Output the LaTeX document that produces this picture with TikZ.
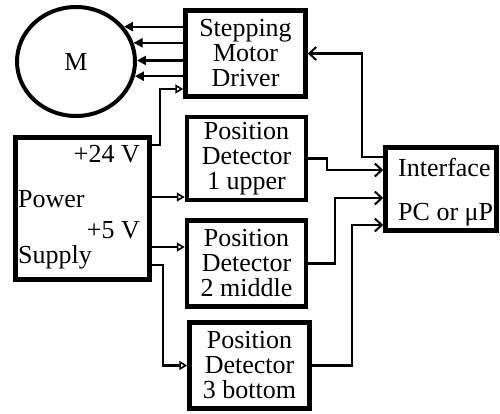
\documentclass[tikz,border=0pt]{standalone}
\usepackage{fontspec}
\setmainfont{Liberation Serif}
\usepackage{tikz}
\usetikzlibrary{arrows.meta,shapes.geometric}
\tikzset{%
    block/.style={draw, line width=4.5pt, align=center, inner sep=0pt},
    pwr/.style={line width=2.2pt, -{Triangle[open,length=8pt,width=9pt,line width=1.6pt]}},
    sig/.style={line width=2.2pt, -{Straight Barb[length=7pt,width=13pt,line width=2pt]}},
    drv/.style={line width=2.2pt, -{Triangle[length=9pt,width=9pt]}}
}

\begin{document}
\begin{tikzpicture}[x=1pt,y=-1pt,font=\fontsize{26}{25}\selectfont]
    \useasboundingbox (0,0) rectangle (500,413);
    \node[draw, ellipse, line width=4pt, minimum width=118pt, minimum height=109pt] (motor) at (76,61.5) {M};
    \node[block, minimum width=120pt, minimum height=86pt] (driver) at (245.5,53.5) {Stepping\\Motor\\Driver};
    \node[block, minimum width=119pt, minimum height=83pt] (pd1) at (246.5,158.5) {Position\\Detector\\1 upper};
    \node[block, minimum width=119pt, minimum height=86pt] (pd2) at (246.5,263.5) {Position\\Detector\\2 middle};
    \node[block, minimum width=120pt, minimum height=86pt] (pd3) at (249.5,365.5) {Position\\Detector\\3 bottom};
    \node[block, minimum width=111pt, minimum height=83pt] (iface) at (441,189) {};
    \node[block, minimum width=134pt, minimum height=142pt] (power) at (82.5,208.5) {};
    % labels in power supply and interface
    \node[anchor=base east, inner sep=0pt] (v24) at (140,162) {+24 V};
    \node[anchor=base west, inner sep=0pt] (pw) at (18,207) {Power};
    \node[anchor=base east, inner sep=0pt] (v5) at (140,238) {+5 V};
    \node[anchor=base west, inner sep=0pt] (sp) at (18,263) {Supply};
    \node[anchor=base west, inner sep=0pt] (ifa) at (398,176) {Interface};
    \node[anchor=base west, inner sep=0pt] (ifb) at (398,220) {PC or μP};

    % motor phases
    \foreach \a in {36,18,1,-14}
    {
    \draw[drv] (motor.\a -| driver.west) -- (motor.\a);
    }
    % supply lines
    \draw[pwr] (power.east |- 0,145) -- (160,145) |- (driver.west |- 0,89);
    \draw[pwr] (power.east |- 0,197) -- (pd1.west |- 0,197);
    \draw[pwr] (power.east |- 0,247) -- (pd2.west |- 0,247);
    \draw[pwr] (power.east |- 0,265) -- (163,265) |- (pd3.west);
    % signals
    \draw[sig] (iface.west |- 0,157) -- (362,157) |- (driver.east);
    \draw[sig] (pd1.east) -- (327,158.5) |- (iface.west |- 0,170);
    \draw[sig] (pd2.east) -- (335,263.5) |- (iface.west |- 0,198);
    \draw[sig] (pd3.east) -- (352,365.5) |- (iface.west |- 0,225);
\end{tikzpicture}
\end{document}
